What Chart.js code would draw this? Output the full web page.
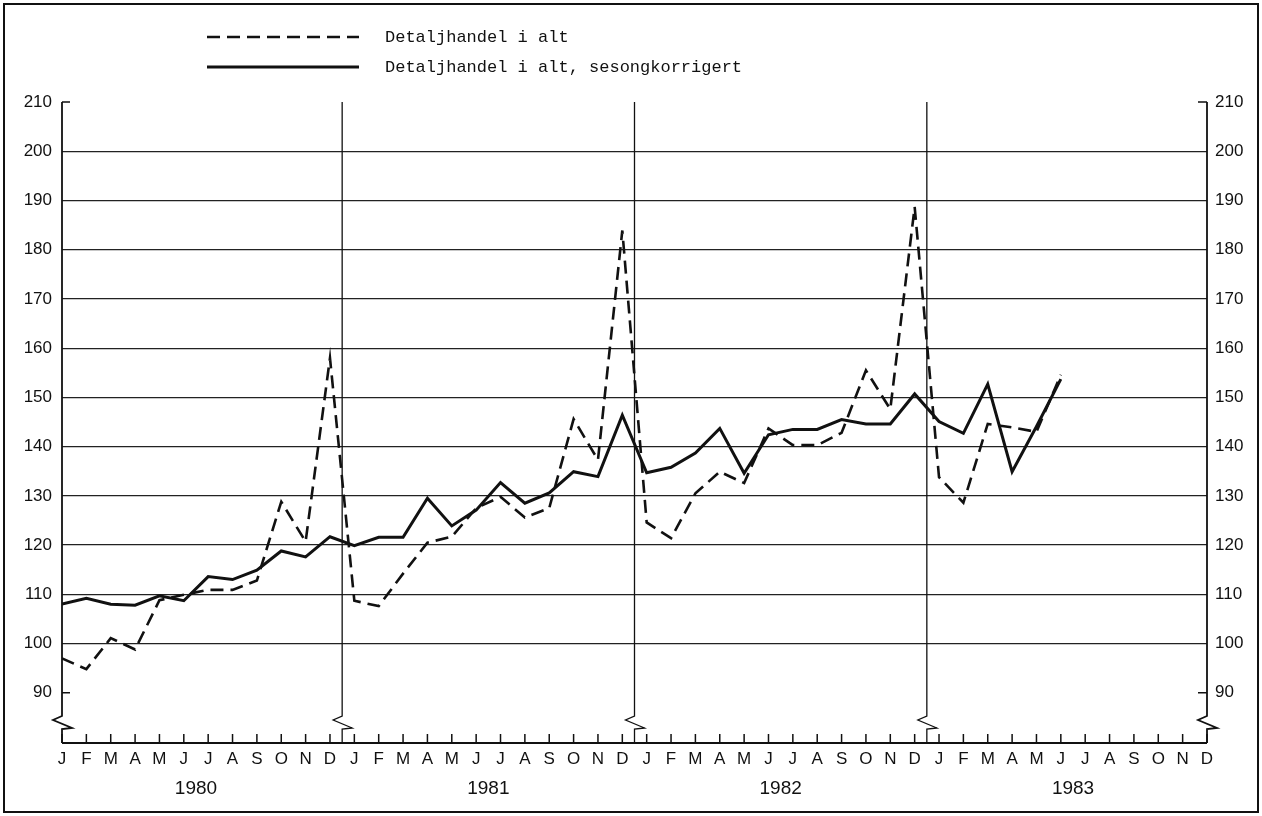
<!DOCTYPE html>
<html>
<head>
<meta charset="utf-8">
<script src="https://cdn.jsdelivr.net/npm/chart.js@4.4.1/dist/chart.umd.min.js"></script>
<style>
  html, body { margin: 0; padding: 0; background: #fff; }
  #wrap { position: relative; width: 1262px; height: 816px; overflow: hidden; background: #fff; }
  #frame { position: absolute; left: 3px; top: 3px; width: 1252px; height: 806px; border: 2px solid #111; pointer-events: none; }
  #legend { position: absolute; left: 207px; top: 22px; font-family: 'Liberation Mono', 'DejaVu Sans Mono', monospace; font-size: 17px; color: #111; }
  .item { display: flex; align-items: center; height: 30px; }
  .item svg { width: 152px; height: 6px; margin-right: 26px; }
  canvas { position: absolute; left: 0; top: 0; }
</style>
</head>
<body>
<div id="wrap">
  <canvas id="chart" width="1262" height="816"></canvas>
  <div id="legend"></div>
  <div id="frame"></div>
</div>
<script>
// Month and year labels
const monthNames = ['J', 'F', 'M', 'A', 'M', 'J', 'J', 'A', 'S', 'O', 'N', 'D'];
const years = ['1980', '1981', '1982', '1983'];
const yTicks = [90, 100, 110, 120, 130, 140, 150, 160, 170, 180, 190, 200, 210];

// Index values, Jan 1980 - Jun 1983
const detaljhandel = [
    97.0, 94.8, 101.1, 98.8, 108.8, 109.9, 110.9, 110.9, 112.8, 128.8, 120.7, 158.0,
    108.7, 107.6, 114.2, 120.5, 121.7, 127.5, 129.8, 125.6, 127.5, 145.6, 137.3, 183.9,
    124.6, 121.4, 130.5, 134.9, 132.6, 143.7, 140.3, 140.3, 142.8, 155.5, 147.6, 188.7,
    133.8, 128.6, 144.6, 143.9, 143.0, 154.6
];
const sesongkorrigert = [
    108.0, 109.2, 108.0, 107.8, 109.7, 108.7, 113.6, 113.0, 114.9, 118.8, 117.6, 121.7,
    119.9, 121.6, 121.6, 129.5, 123.9, 127.1, 132.7, 128.5, 130.6, 134.9, 133.9, 146.4,
    134.7, 135.8, 138.7, 143.7, 134.6, 142.4, 143.5, 143.5, 145.5, 144.6, 144.6, 150.7,
    145.1, 142.7, 152.7, 134.9, 144.1, 153.7
];

const seriesNames = ['Detaljhandel i alt', 'Detaljhandel i alt, sesongkorrigert'];

const INK = '#111';
const lastMonth = years.length * 12 - 1;
const yMin = 79.8;
const yMax = 210;

// year boundaries sit between December and January
const yearBreaks = years.slice(1).map((_, i) => (i + 1) * 12 - 0.5);
const yearCenters = years.map((_, i) => i * 12 + 5.5);

const numFont = { family: "'Liberation Sans', Arial, sans-serif", size: 17 };

// axes, breaks and small tick marks
const chartDecor = {
    id: 'chartDecor',
    beforeDatasetsDraw(chart) {
        const { ctx, chartArea: a, scales } = chart;
        const x = scales.x;
        const y = scales.y;
        const B = a.bottom;
        ctx.save();
        ctx.strokeStyle = INK;
        ctx.lineJoin = 'miter';

        const broken = (px, w) => {
            ctx.lineWidth = w;
            ctx.beginPath();
            ctx.moveTo(px, a.top);
            ctx.lineTo(px, B - 27);
            ctx.lineTo(px - 9, B - 23);
            ctx.lineTo(px + 10, B - 15);
            ctx.lineTo(px, B - 14);
            ctx.lineTo(px, B);
            ctx.stroke();
        };
        broken(a.left, 1.8);
        broken(a.right, 1.8);
        yearBreaks.forEach(v => broken(x.getPixelForValue(v), 1.3));

        // base line
        ctx.lineWidth = 1.8;
        ctx.beginPath();
        ctx.moveTo(a.left, B);
        ctx.lineTo(a.right, B);
        ctx.stroke();

        // month ticks, pointing up
        ctx.lineWidth = 1.5;
        ctx.beginPath();
        for (let i = 0; i <= lastMonth; i++) {
            const px = x.getPixelForValue(i);
            ctx.moveTo(px, B);
            ctx.lineTo(px, B - 9);
        }
        // short ticks at 90 and at the top
        [yTicks[0], yTicks[yTicks.length - 1]].forEach(v => {
            const py = y.getPixelForValue(v);
            ctx.moveTo(a.left, py);
            ctx.lineTo(a.left + 8, py);
            ctx.moveTo(a.right - 9, py);
            ctx.lineTo(a.right, py);
        });
        ctx.stroke();
        ctx.restore();
    }
};

const yAxis = (position, width, padding, grid) => ({
    type: 'linear',
    position: position,
    min: yMin,
    max: yMax,
    afterBuildTicks: scale => { scale.ticks = yTicks.map(v => ({ value: v })); },
    afterFit: scale => { scale.width = width; },
    border: { display: false },
    grid: grid,
    ticks: { font: numFont, color: INK, padding: padding }
});

new Chart(document.getElementById('chart'), {
    type: 'line',
    data: {
        datasets: [
            {
                label: seriesNames[0],
                data: detaljhandel.map((v, i) => ({ x: i, y: v })),
                borderColor: INK,
                borderWidth: 2.6,
                borderDash: [13, 7],
                pointRadius: 0,
                tension: 0,
                fill: false
            },
            {
                label: seriesNames[1],
                data: sesongkorrigert.map((v, i) => ({ x: i, y: v })),
                borderColor: INK,
                borderWidth: 3,
                pointRadius: 0,
                tension: 0,
                fill: false
            }
        ]
    },
    options: {
        responsive: false,
        animation: false,
        devicePixelRatio: 1,
        layout: { padding: { top: 102, left: 0, right: 0, bottom: 0 } },
        plugins: {
            legend: { display: false },
            tooltip: { enabled: false }
        },
        scales: {
            x: {
                type: 'linear',
                position: 'bottom',
                min: 0,
                max: lastMonth,
                afterFit: scale => { scale.height = 30; },
                border: { display: false },
                grid: { display: false, drawTicks: false },
                ticks: {
                    stepSize: 1,
                    autoSkip: false,
                    maxRotation: 0,
                    minRotation: 0,
                    padding: 6,
                    color: INK,
                    font: { family: "'Liberation Sans Narrow', 'Liberation Sans', Arial, sans-serif", size: 17 },
                    callback: v => monthNames[Math.round(v) % 12]
                }
            },
            x2: {
                type: 'linear',
                position: 'bottom',
                min: 0,
                max: lastMonth,
                afterBuildTicks: scale => { scale.ticks = yearCenters.map(v => ({ value: v })); },
                afterFit: scale => { scale.height = 43; },
                border: { display: false },
                grid: { display: false, drawTicks: false },
                ticks: {
                    autoSkip: false,
                    maxRotation: 0,
                    padding: 4,
                    color: INK,
                    font: { family: "'Liberation Sans', Arial, sans-serif", size: 19 },
                    callback: (v, i) => years[i]
                }
            },
            y: yAxis('left', 62, 10, {
                color: ctx => (ctx.tick && ctx.tick.value >= 100 && ctx.tick.value <= 200) ? '#222' : 'rgba(0,0,0,0)',
                lineWidth: 1.2,
                drawTicks: false
            }),
            y2: yAxis('right', 55, 8, { display: false, drawTicks: false })
        }
    },
    plugins: [chartDecor]
});

// legend with real text
const legend = document.getElementById('legend');
seriesNames.forEach((name, i) => {
    const row = document.createElement('div');
    row.className = 'item';
    const dash = i === 0 ? 'stroke-dasharray="13 7"' : '';
    const w = i === 0 ? 2.6 : 3;
    row.innerHTML = '<svg viewBox="0 0 152 6"><line x1="0" y1="3" x2="152" y2="3" stroke="' + INK +
        '" stroke-width="' + w + '" ' + dash + '/></svg><span>' + name + '</span>';
    legend.appendChild(row);
});
</script>
</body>
</html>
